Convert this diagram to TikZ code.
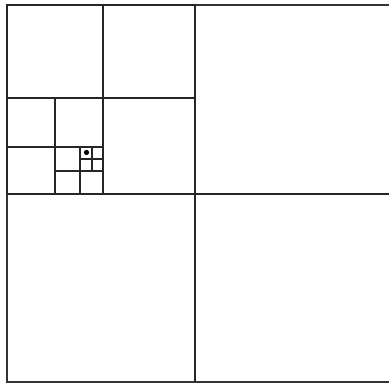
\documentclass[tikz,border=0pt]{standalone}
\usepackage{tikz}

\tikzset{
  cell/.style={draw=black!85, line width=1.4pt},
  frame/.style={draw=black!80, line width=2pt}
}

\begin{document}
\begin{tikzpicture}[x=1pt,y=-1pt]
\useasboundingbox (0,0) rectangle (389,383);
% outer frame, cut off on the right
\draw[frame] (389,5) -- (7,5) -- (7,382) -- (389,382);
\draw[cell] (195,5) -- (195,382);
\draw[cell] (7,194) -- (389,194);
% quadtree cells, refined towards the point
\foreach \xa/\ya/\xb/\yb in {7/5/195/194, 7/5/103/98, 103/5/195/98, 103/98/195/194,
  7/98/55/147, 55/98/103/147,
  7/147/55/194, 55/147/80/171, 80/171/103/194, 55/171/80/194,
  80/147/92/159, 92/147/103/159, 80/159/92/171, 92/159/103/171} {
  \draw[cell] (\xa,\ya) rectangle (\xb,\yb);
}
\fill[black] (86.5,152.5) circle (2.6);
\end{tikzpicture}
\end{document}
